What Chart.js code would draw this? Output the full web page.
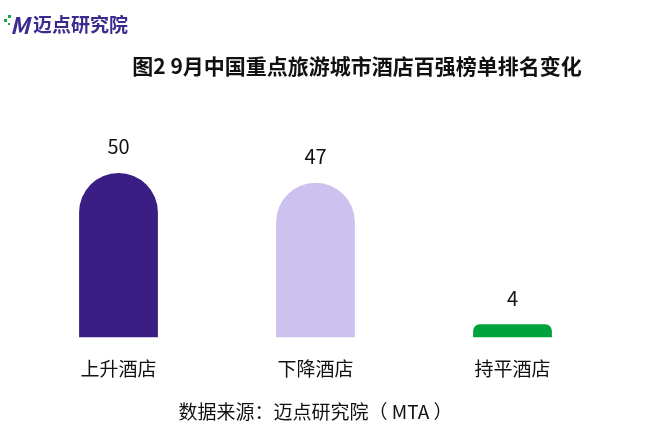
<!DOCTYPE html>
<html>
<head>
<meta charset="utf-8">
<script src="https://cdn.jsdelivr.net/npm/chart.js@4.4.1/dist/chart.umd.min.js"></script>
<style>
  html, body { margin: 0; padding: 0; background: #fff; }
  #wrap { width: 650px; height: 431px; }
</style>
</head>
<body>
<div id="wrap"><canvas id="rankChart"></canvas></div>
<script>
const categories = ['上升酒店', '下降酒店', '持平酒店'];
const hotelCounts = [50, 47, 4];
const barColors = ['#3a1e84', '#cdc1ef', '#00a23c'];

const fontFamily = '"Noto Sans CJK SC", "Noto Sans", sans-serif';

// logo, title and value labels are painted by hand
const decorPlugin = {
    id: 'decor',
    afterDraw: (chart) => {
        const ctx = chart.ctx;
        ctx.save();
        // logo
        ctx.fillStyle = '#1fa04a';
        ctx.fillRect(4, 19, 3, 3);
        ctx.fillRect(8, 15, 3, 3);
        ctx.fillRect(8, 23, 2, 2);
        ctx.fillStyle = '#3b2b8f';
        ctx.font = 'italic bold 23px ' + fontFamily;
        ctx.textBaseline = 'middle';
        ctx.textAlign = 'left';
        ctx.fillText('M', 10, 25);
        ctx.font = 'bold 19px ' + fontFamily;
        ctx.fillText('迈点研究院', 33, 25);
        // title
        ctx.fillStyle = '#111';
        ctx.font = 'bold 21px ' + fontFamily;
        ctx.textAlign = 'center';
        ctx.fillText('图2 9月中国重点旅游城市酒店百强榜单排名变化', 357, 66);
        ctx.restore();
    },
    afterDatasetsDraw: (chart) => {
        const ctx = chart.ctx;
        const meta = chart.getDatasetMeta(0);
        ctx.save();
        ctx.fillStyle = '#111';
        ctx.font = '20px ' + fontFamily;
        ctx.textAlign = 'center';
        ctx.textBaseline = 'middle';
        meta.data.forEach((bar, i) => {
            ctx.fillText(hotelCounts[i], bar.x, bar.y - 26);
        });
        ctx.restore();
    }
};

const ctxR = document.getElementById('rankChart').getContext('2d');
const rankChart = new Chart(ctxR, {
    type: 'bar',
    data: {
        labels: categories,
        datasets: [{
            data: hotelCounts,
            backgroundColor: barColors,
            borderWidth: 0,
            borderSkipped: 'bottom',
            borderRadius: { topLeft: 40, topRight: 40, bottomLeft: 0, bottomRight: 0 },
            barPercentage: 0.8,
            categoryPercentage: 0.5
        }]
    },
    options: {
        responsive: true,
        maintainAspectRatio: false,
        animation: false,
        layout: {
            padding: { top: 140, left: 20, right: 39, bottom: 0 }
        },
        plugins: {
            legend: { display: false },
            tooltip: { enabled: false },
            title: { display: false },
            subtitle: {
                display: true,
                position: 'bottom',
                text: '数据来源：迈点研究院（ MTA ）',
                color: '#111',
                font: { family: fontFamily, size: 19 },
                padding: { top: 0, bottom: 8 }
            }
        },
        scales: {
            x: {
                grid: { display: false, drawTicks: false },
                border: { display: false },
                ticks: {
                    color: '#111',
                    padding: 20,
                    font: { family: fontFamily, size: 19 }
                }
            },
            y: {
                display: false,
                min: 0,
                max: 60
            }
        }
    },
    plugins: [decorPlugin]
});
</script>
</body>
</html>
